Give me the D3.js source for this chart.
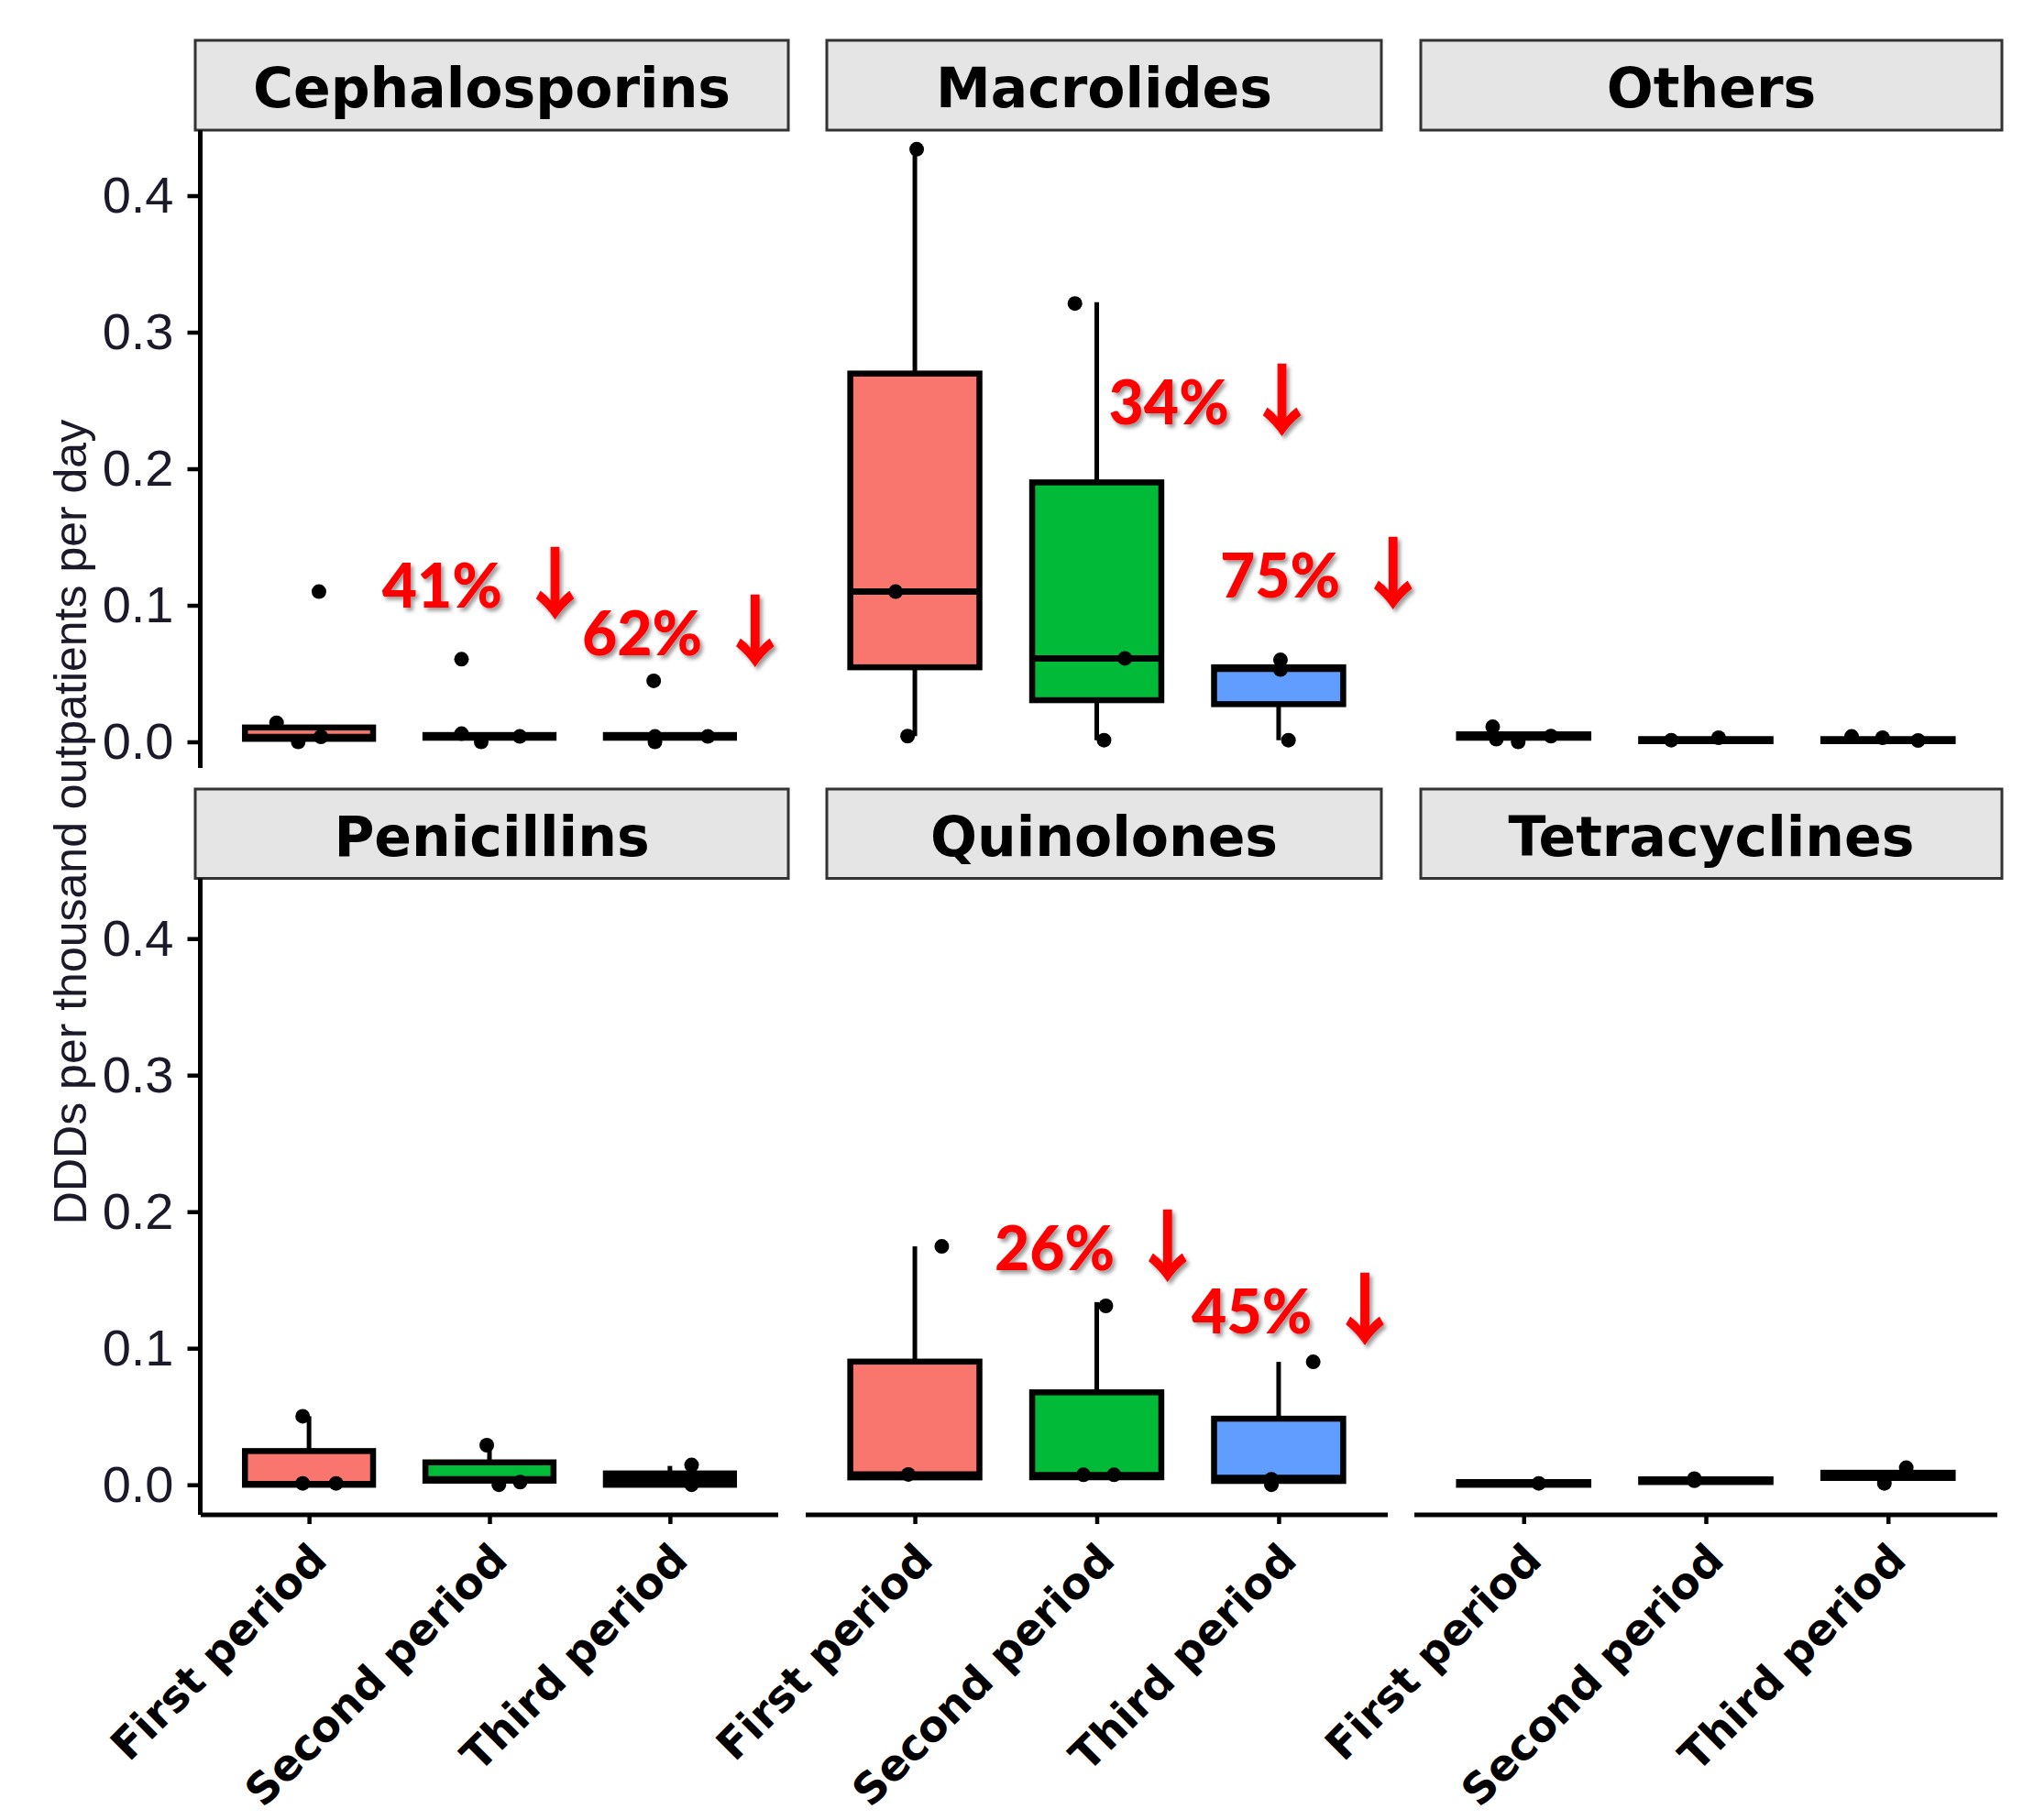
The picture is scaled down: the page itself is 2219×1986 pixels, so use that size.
<!DOCTYPE html>
<html>
<head>
<meta charset="utf-8">
<script src="https://cdn.jsdelivr.net/npm/d3@7"></script>
<style>
  body { margin: 0; background: #ffffff; }
  svg { display: block; }
</style>
</head>
<body>
<svg id="chart" width="2219" height="1986"></svg>
<script>
// ---- data -------------------------------------------------------------
const facets = ["Cephalosporins", "Macrolides", "Others", "Penicillins", "Quinolones", "Tetracyclines"];
const periods = ["First period", "Second period", "Third period"];
const periodColors = ["#F8766D", "#00BA38", "#619CFF"];
const yTicks = [0.0, 0.1, 0.2, 0.3, 0.4];

// box summaries: one row per facet (order of `facets`), one entry per period
const whiskerLow = [
  [0.0022, 0.003, 0.003],
  [0.0042, 0.0012, 0.0012],
  [0.003, 0.0005, 0.0005],
  [0.0, 0.003, 0.0],
  [0.0054, 0.0055, 0.0028],
  [0.0, 0.002, 0.005]
];
const q1 = [
  [0.0022, 0.003, 0.003],
  [0.0546, 0.0305, 0.0276],
  [0.003, 0.0005, 0.0005],
  [0.0, 0.003, 0.0],
  [0.0054, 0.0055, 0.0028],
  [0.0, 0.002, 0.005]
];
const median = [
  [0.0035, 0.004, 0.004],
  [0.110, 0.0611, 0.0535],
  [0.004, 0.0012, 0.0012],
  [0.0005, 0.004, 0.004],
  [0.0075, 0.007, 0.005],
  [0.001, 0.003, 0.007]
];
const q3 = [
  [0.0105, 0.005, 0.005],
  [0.2697, 0.190, 0.0546],
  [0.0055, 0.002, 0.002],
  [0.0247, 0.0164, 0.0083],
  [0.0902, 0.0677, 0.0484],
  [0.002, 0.004, 0.0088]
];
const whiskerHigh = [
  [0.0105, 0.005, 0.005],
  [0.434, 0.322, 0.0546],
  [0.0055, 0.002, 0.002],
  [0.0502, 0.029, 0.0138],
  [0.1746, 0.1338, 0.090],
  [0.002, 0.004, 0.0088]
];

// individual observations: [facet, period index, value, horizontal jitter (in category steps)]
const observations = [
  ["Cephalosporins", 0, 0.014, -0.18], ["Cephalosporins", 0, 0.0, -0.06], ["Cephalosporins", 0, 0.0037, 0.066], ["Cephalosporins", 0, 0.110, 0.055],
  ["Cephalosporins", 1, 0.006, -0.155], ["Cephalosporins", 1, 0.0, -0.046], ["Cephalosporins", 1, 0.004, 0.168], ["Cephalosporins", 1, 0.0605, -0.155],
  ["Cephalosporins", 2, 0.004, -0.083], ["Cephalosporins", 2, 0.0, -0.083], ["Cephalosporins", 2, 0.004, 0.21], ["Cephalosporins", 2, 0.0447, -0.09],
  ["Macrolides", 0, 0.434, 0.01], ["Macrolides", 0, 0.110, -0.106], ["Macrolides", 0, 0.0042, -0.04],
  ["Macrolides", 1, 0.321, -0.12], ["Macrolides", 1, 0.0611, 0.155], ["Macrolides", 1, 0.0012, 0.04],
  ["Macrolides", 2, 0.060, 0.01], ["Macrolides", 2, 0.053, 0.01], ["Macrolides", 2, 0.0012, 0.054],
  ["Others", 0, 0.011, -0.17], ["Others", 0, 0.002, -0.15], ["Others", 0, 0.0, -0.03], ["Others", 0, 0.0042, 0.15],
  ["Others", 1, 0.0012, -0.19], ["Others", 1, 0.003, 0.07],
  ["Others", 2, 0.004, -0.2], ["Others", 2, 0.003, -0.03], ["Others", 2, 0.001, 0.165],
  ["Penicillins", 0, 0.0502, -0.035], ["Penicillins", 0, 0.001, -0.035], ["Penicillins", 0, 0.001, 0.15],
  ["Penicillins", 1, 0.029, -0.015], ["Penicillins", 1, 0.0, 0.052], ["Penicillins", 1, 0.002, 0.17],
  ["Penicillins", 2, 0.0145, 0.12], ["Penicillins", 2, 0.0, 0.12],
  ["Quinolones", 0, 0.1746, 0.148], ["Quinolones", 0, 0.0076, -0.036],
  ["Quinolones", 1, 0.131, 0.05], ["Quinolones", 1, 0.0073, -0.073], ["Quinolones", 1, 0.0073, 0.095],
  ["Quinolones", 2, 0.090, 0.19], ["Quinolones", 2, 0.004, -0.04], ["Quinolones", 2, 0.0, -0.04],
  ["Tetracyclines", 0, 0.001, 0.083],
  ["Tetracyclines", 1, 0.003, -0.063], ["Tetracyclines", 1, 0.0045, -0.063],
  ["Tetracyclines", 2, 0.0125, 0.1], ["Tetracyclines", 2, 0.001, -0.02]
];

// reduction labels: [facet, text, x position (in category steps from the first period), baseline value]
const reductions = [
  ["Cephalosporins", "41%", 0.404, 0.098],
  ["Cephalosporins", "62%", 1.513, 0.0634],
  ["Macrolides", "34%", 1.066, 0.2328],
  ["Macrolides", "75%", 1.678, 0.1055],
  ["Quinolones", "26%", 0.438, 0.1572],
  ["Quinolones", "45%", 1.522, 0.1109]
];

const yTitle = "DDDs per thousand outpatients per day";

// ---- layout -----------------------------------------------------------
const colAxis = [[219, 849], [879, 1514], [1543, 2179]];
const colStrip = [[213, 860], [902, 1507], [1550, 2184]];
const rowZero = [809.5, 1620.2];
const rowPanel = [[142, 838], [958.5, 1653]];
const rowStrip = [[44, 142], [861, 958.5]];
const pxPerTick = 149; // pixels per 0.1

const svg = d3.select("#chart");
svg.append("rect").attr("width", 2219).attr("height", 1986).attr("fill", "#fff");

const defs = svg.append("defs");
const shadow = defs.append("filter").attr("id", "soft-shadow")
  .attr("x", "-10%").attr("y", "-10%").attr("width", "130%").attr("height", "140%");
shadow.append("feDropShadow").attr("dx", 3).attr("dy", 3.5).attr("stdDeviation", 2)
  .attr("flood-color", "#000").attr("flood-opacity", 0.4);

const boldFace = "'DejaVu Sans', Verdana, sans-serif";

const panels = facets.map((name, i) => {
  const row = Math.floor(i / 3), col = i % 3;
  const x = d3.scalePoint().domain(periods).range(colAxis[col]).padding(0.6);
  const y = d3.scaleLinear().domain([0, 0.4]).range([rowZero[row], rowZero[row] - 4 * pxPerTick]);
  return { name, i, row, col, x, y };
});

panels.forEach(p => {
  const g = svg.append("g").attr("class", "panel");
  const step = p.x.step();
  const boxW = step * 0.71;

  // strip
  const [sx0, sx1] = colStrip[p.col];
  const [sy0, sy1] = rowStrip[p.row];
  g.append("rect")
    .attr("x", sx0).attr("y", sy0).attr("width", sx1 - sx0).attr("height", sy1 - sy0)
    .attr("fill", "#E5E5E5").attr("stroke", "#333").attr("stroke-width", 3);
  g.append("text")
    .attr("x", (sx0 + sx1) / 2).attr("y", (sy0 + sy1) / 2 + 24)
    .attr("text-anchor", "middle")
    .attr("font-family", boldFace)
    .attr("font-weight", 700).attr("font-size", 60)
    .attr("fill", "#000")
    .text(p.name);

  const groups = periods.map((per, k) => ({
    per, k,
    cx: p.x(per),
    lo: whiskerLow[p.i][k], a: q1[p.i][k], m: median[p.i][k], b: q3[p.i][k], hi: whiskerHigh[p.i][k]
  }));

  // whiskers
  g.selectAll("line.whisker-up").data(groups).join("line")
    .attr("x1", d => d.cx).attr("x2", d => d.cx)
    .attr("y1", d => p.y(d.b)).attr("y2", d => p.y(d.hi))
    .attr("stroke", "#000").attr("stroke-width", 5);
  g.selectAll("line.whisker-down").data(groups).join("line")
    .attr("x1", d => d.cx).attr("x2", d => d.cx)
    .attr("y1", d => p.y(d.a)).attr("y2", d => p.y(d.lo))
    .attr("stroke", "#000").attr("stroke-width", 5);

  // boxes
  g.selectAll("rect.box").data(groups).join("rect")
    .attr("x", d => d.cx - boxW / 2).attr("width", boxW)
    .attr("y", d => p.y(d.b)).attr("height", d => Math.max(0, p.y(d.a) - p.y(d.b)))
    .attr("fill", d => periodColors[d.k])
    .attr("stroke", "#000").attr("stroke-width", 6.5);

  // medians
  g.selectAll("line.median").data(groups).join("line")
    .attr("x1", d => d.cx - boxW / 2).attr("x2", d => d.cx + boxW / 2)
    .attr("y1", d => p.y(d.m)).attr("y2", d => p.y(d.m))
    .attr("stroke", "#000").attr("stroke-width", 7);

  // observations
  g.selectAll("circle.obs").data(observations.filter(o => o[0] === p.name)).join("circle")
    .attr("cx", o => p.x(periods[o[1]]) + o[3] * step)
    .attr("cy", o => p.y(o[2]))
    .attr("r", 8)
    .attr("fill", "#000");

  // y axis on the first column only
  if (p.col === 0) {
    const [py0, py1] = rowPanel[p.row];
    const ax = g.append("g").attr("transform", `translate(${colAxis[0][0] - 0.5},0)`)
      .call(d3.axisLeft(p.y).tickValues(yTicks).tickFormat(d3.format(".1f")).tickSize(14).tickPadding(15));
    ax.select(".domain").remove();
    ax.selectAll(".tick line").attr("stroke", "#000").attr("stroke-width", 4.5);
    ax.selectAll(".tick text")
      .attr("font-family", "'Liberation Sans', Arial, sans-serif")
      .attr("font-size", 56).attr("fill", "#1a1a2a");
    g.append("line")
      .attr("x1", colAxis[0][0] - 0.5).attr("x2", colAxis[0][0] - 0.5)
      .attr("y1", py0).attr("y2", py1)
      .attr("stroke", "#000").attr("stroke-width", 5);
  }

  // x axis on the bottom row only
  if (p.row === 1) {
    const base = rowPanel[1][1];
    const ax = g.append("g").attr("transform", `translate(0,${base})`)
      .call(d3.axisBottom(p.x).tickSize(10).tickFormat(""));
    ax.select(".domain").remove();
    ax.selectAll(".tick line").attr("stroke", "#000").attr("stroke-width", 4.5);
    g.append("line")
      .attr("x1", colAxis[p.col][0]).attr("x2", colAxis[p.col][1])
      .attr("y1", base).attr("y2", base)
      .attr("stroke", "#000").attr("stroke-width", 5);
    g.selectAll("text.xlab").data(periods).join("text")
      .attr("transform", d => `translate(${p.x(d) + 22},${base + 52}) rotate(-45)`)
      .attr("text-anchor", "end")
      .attr("font-family", boldFace)
      .attr("font-weight", 700).attr("font-size", 47)
      .attr("fill", "#000")
      .text(d => d);
  }

  // reduction annotations
  reductions.filter(r => r[0] === p.name).forEach(r => {
    const t = g.append("text")
      .attr("x", p.x(periods[0]) + r[2] * step)
      .attr("y", p.y(r[3]))
      .attr("filter", "url(#soft-shadow)")
      .attr("fill", "#FF0000")
      .attr("font-family", "Lato, 'Open Sans', sans-serif")
      .attr("font-weight", 900).attr("font-size", 66);
    t.append("tspan").text(r[1] + " ");
    t.append("tspan")
      .attr("font-family", "'Noto Sans CJK JP', 'Noto Sans CJK SC', sans-serif")
      .attr("font-weight", 700).attr("font-size", 84)
      .attr("stroke", "#FF0000").attr("stroke-width", 1.2)
      .attr("dy", 5)
      .text("↓");
  });
});

// y axis title
svg.append("text")
  .attr("transform", "translate(94,897) rotate(-90)")
  .attr("text-anchor", "middle")
  .attr("font-family", "'Liberation Sans', Arial, sans-serif")
  .attr("font-size", 50)
  .attr("fill", "#1a1a2a")
  .text(yTitle);
</script>
</body>
</html>
